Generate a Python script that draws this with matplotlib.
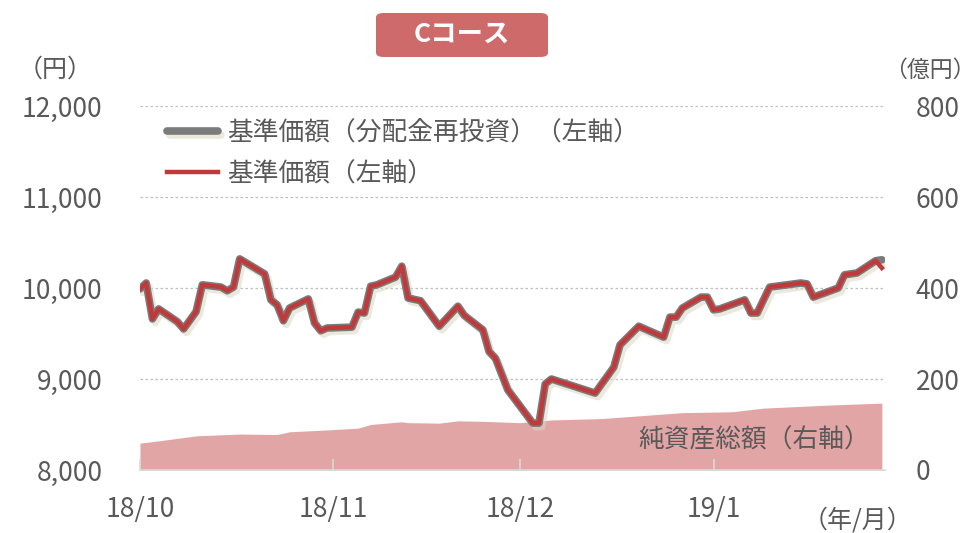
import numpy as np
import pandas as pd
import matplotlib
matplotlib.use("Agg")
import matplotlib.pyplot as plt
import matplotlib.dates as mdates
import matplotlib.patheffects as pe
from matplotlib.patches import FancyBboxPatch

plt.rcParams['font.family'] = ['Noto Sans CJK JP', 'DejaVu Sans']

# 基準価額 (円)
nav_dates = pd.to_datetime([
    "2018-10-01", "2018-10-02", "2018-10-03", "2018-10-04", "2018-10-07", "2018-10-08",
    "2018-10-10", "2018-10-11", "2018-10-14", "2018-10-15", "2018-10-16", "2018-10-17",
    "2018-10-21", "2018-10-22", "2018-10-23", "2018-10-24", "2018-10-25", "2018-10-28",
    "2018-10-29", "2018-10-30", "2018-10-31", "2018-11-04", "2018-11-05", "2018-11-06",
    "2018-11-07", "2018-11-08", "2018-11-11", "2018-11-12", "2018-11-13", "2018-11-15",
    "2018-11-18", "2018-11-21", "2018-11-22", "2018-11-25", "2018-11-26", "2018-11-27",
    "2018-11-29", "2018-11-30", "2018-12-03", "2018-12-04", "2018-12-05", "2018-12-06",
    "2018-12-13", "2018-12-16", "2018-12-17", "2018-12-20", "2018-12-24", "2018-12-25",
    "2018-12-26", "2018-12-27", "2018-12-30", "2018-12-31", "2019-01-01", "2019-01-02",
    "2019-01-06", "2019-01-07", "2019-01-08", "2019-01-10", "2019-01-15", "2019-01-16",
    "2019-01-17", "2019-01-21", "2019-01-22", "2019-01-24", "2019-01-27", "2019-01-28",
])
nav = [
    9990, 10055, 9660, 9770, 9630, 9550,
    9740, 10035, 10010, 9970, 10010, 10320,
    10155, 9870, 9815, 9640, 9780, 9880,
    9615, 9530, 9560, 9570, 9735, 9725,
    10020, 10035, 10120, 10240, 9890, 9860,
    9580, 9800, 9700, 9540, 9300, 9230,
    8880, 8790, 8515, 8515, 8945, 9000,
    8845, 9130, 9375, 9580, 9460, 9680,
    9680, 9780, 9900, 9900, 9760, 9770,
    9870, 9725, 9725, 10010, 10055, 10045,
    9900, 10000, 10145, 10165, 10300, 10220,
]
# 分配金再投資 (same except last point)
nav_reinv = nav[:-1] + [10310]

# 純資産総額 (億円)
asset_dates = pd.to_datetime([
    "2018-10-01", "2018-10-04", "2018-10-10", "2018-10-17", "2018-10-23", "2018-10-25",
    "2018-10-31", "2018-11-05", "2018-11-07", "2018-11-12", "2018-11-13", "2018-11-18",
    "2018-11-21", "2018-11-25", "2018-12-01", "2018-12-06", "2018-12-14", "2018-12-22",
    "2018-12-27", "2019-01-04", "2019-01-09", "2019-01-20", "2019-01-28",
])
assets = [
    59, 64, 75, 79, 78, 84,
    88, 92, 100, 106, 104, 103,
    108, 107, 104, 110, 113, 121,
    126, 128, 136, 143, 147,
]

tick_dates = pd.to_datetime(["2018-10-01", "2018-11-01", "2018-12-01", "2019-01-01"])
tick_labels = ["18/10", "18/11", "18/12", "19/1"]

txt = '#595959'
red = '#C0393B'
grey = '#7b7b7b'
area_c = '#E1A5A5'

fig = plt.figure(figsize=(9.78, 5.33), dpi=100)
ax1 = fig.add_axes([0.1431, 0.1182, 0.7618, 0.6829])
ax2 = ax1.twinx()

ax2.fill_between(asset_dates, assets, 0, color=area_c, lw=0)
ax2.set_ylim(0, 800)
ax2.set_yticks([0, 200, 400, 600, 800])

shadow = [pe.SimpleLineShadow(offset=(2, -2.5), shadow_color='#dcd8c0', alpha=0.55), pe.Normal()]
ax1.plot(nav_dates, nav_reinv, color=grey, lw=5.5, solid_joinstyle='round', solid_capstyle='round',
         path_effects=shadow, label='基準価額（分配金再投資）（左軸）')
ax1.plot(nav_dates, nav, color=red, lw=3.2, solid_joinstyle='round',
         label='基準価額（左軸）')

ax1.set_zorder(ax2.get_zorder() + 1)
ax1.patch.set_visible(False)

x0 = pd.Timestamp("2018-10-01")
x1 = pd.Timestamp("2019-01-28 12:00")
ax1.set_xlim(x0, x1)
ax1.set_ylim(8000, 12000)
ax1.set_yticks([8000, 9000, 10000, 11000, 12000])
ax1.set_yticklabels(['{:,}'.format(v) for v in [8000, 9000, 10000, 11000, 12000]])
for v in [9000, 10000, 11000, 12000]:
    ax1.axhline(v, color='#bfbfbf', lw=0.9, ls=(0, (2, 2)), zorder=0)

ax1.set_xticks(tick_dates)
ax1.set_xticklabels(tick_labels)

for ax in (ax1, ax2):
    for s in ax.spines.values():
        s.set_visible(False)
ax1.spines['bottom'].set_visible(True)
ax1.spines['bottom'].set_color('#d9d9d9')
ax1.spines['bottom'].set_linewidth(1.2)

ax1.tick_params(axis='x', direction='in', length=8, color='#d9d9d9', width=1.2,
                labelsize=19, labelcolor=txt, pad=19)
ax1.tick_params(axis='y', length=0, labelsize=19, labelcolor=txt, pad=27)
ax2.tick_params(axis='y', length=0, labelsize=19, labelcolor=txt, pad=22)
ax2.tick_params(axis='x', length=0)

leg = ax1.legend(loc='upper left', bbox_to_anchor=(0.005, 1.025), frameon=False,
                 fontsize=18.5, handlelength=2.0, labelspacing=0.6, handletextpad=0.35)
for t in leg.get_texts():
    t.set_color(txt)

fig.text(55 / 978, 1 - 70 / 533, '（円）', ha='center', va='center', fontsize=18, color=txt)
fig.text(0.997, 1 - 70 / 533, '（億円）', ha='right', va='center', fontsize=16.5, color=txt)
fig.text(858 / 978, 1 - 520 / 533, '（年/月）', ha='center', va='center', fontsize=18, color=txt)
ax1.text(0.98, 0.08, '純資産総額（右軸）', transform=ax1.transAxes, ha='right', va='center',
         fontsize=18.5, color=txt)

box = FancyBboxPatch((376 / 978, 1 - 57 / 533), 172 / 978, 44 / 533,
                     boxstyle='round,pad=0,rounding_size=0.008', transform=fig.transFigure,
                     facecolor='#CF6A6A', edgecolor='none')
fig.patches.append(box)
fig.text(462 / 978, 1 - 34 / 533, 'Cコース', ha='center', va='center', fontsize=19,
         color='white', fontweight='bold')

fig.savefig('out.png', dpi=100)
